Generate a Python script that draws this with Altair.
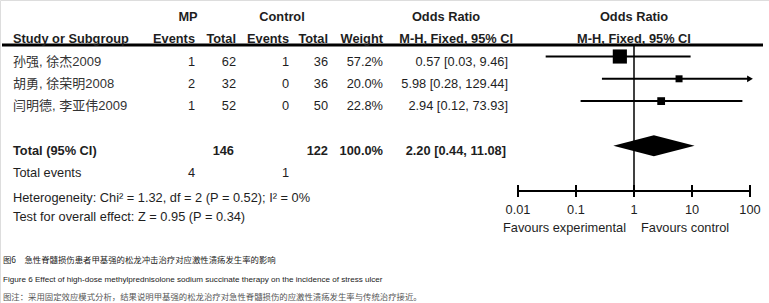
import altair as alt
import pandas as pd

# ---------------- data ----------------
studies = ["孙强, 徐杰2009", "胡勇, 徐荣明2008", "闫明德, 李亚伟2009"]
mp_events = [1, 2, 1]
mp_total = [62, 32, 52]
ctl_events = [1, 0, 0]
ctl_total = [36, 36, 50]
weights = [57.2, 20.0, 22.8]
or_est = [0.57, 5.98, 2.94]
or_lo = [0.03, 0.28, 0.12]
or_hi = [9.46, 129.44, 73.93]

pooled_est, pooled_lo, pooled_hi = 2.20, 0.44, 11.08
total_mp, total_ctl = 146, 122
events_mp, events_ctl = 4, 1
heterogeneity = "Heterogeneity: Chi² = 1.32, df = 2 (P = 0.52); I² = 0%"
overall_effect = "Test for overall effect: Z = 0.95 (P = 0.34)"

tick_values = [0.01, 0.1, 1, 10, 100]
tick_labels = ["0.01", "0.1", "1", "10", "100"]
favours = ["Favours experimental", "Favours control"]

captions = [
    "图6　急性脊髓损伤患者甲基强的松龙冲击治疗对应激性溃疡发生率的影响",
    "Figure 6   Effect of high-dose methylprednisolone sodium succinate therapy on the incidence of stress ulcer",
    "图注：采用固定效应模式分析，结果说明甲基强的松龙治疗对急性脊髓损伤的应激性溃疡发生率与传统治疗接近。",
]

# ---------------- layout / style ----------------
FONT = "Liberation Sans, Arial, Noto Sans CJK SC, sans-serif"
CJK = "Noto Sans CJK SC, sans-serif"
FS = 12.8
TXT = "#1e1e1e"
XMAX = 100

xscale = alt.Scale(type="log", domain=[0.01, 100], range=[518, 750])
yscale = alt.Scale(domain=[1, 8], range=[56.5, 56.5 + 7 * 22.3], zero=False, nice=False)

# column anchors (pixels)
COL = {"study": 13, "mp_e": 195, "mp_t": 236, "c_e": 289, "c_t": 328, "w": 383, "or": 508}

n = len(studies)
rows = list(range(1, n + 1))
R_H1, R_H2, R_RULE = -1, 0, 0.484
R_TOTAL, R_EVENTS, R_HET, R_TEST = n + 2, n + 3, n + 4.1, n + 4.97
R_AXIS = 7.03

def Y(field="row"):
    return alt.Y(f"{field}:Q", scale=yscale, axis=None)

def X(field):
    return alt.X(f"{field}:Q", scale=xscale, axis=None)

# ---------------- forest ----------------
sdf = pd.DataFrame({
    "row": rows, "est": or_est, "lo": or_lo,
    "hi": [min(h, XMAX) for h in or_hi], "w": weights,
    "arrow": [h > XMAX for h in or_hi],
})

ci = alt.Chart(sdf).mark_rule(color="black", strokeWidth=2).encode(
    x=X("lo"), x2="hi", y=Y())
sq = alt.Chart(sdf).mark_square(color="black", filled=True, opacity=1).encode(
    x=X("est"), y=Y(),
    size=alt.Size("w:Q", scale=alt.Scale(domain=[20, 57.2], range=[49, 200], zero=False), legend=None))
arrows = alt.Chart(sdf[sdf["arrow"]]).mark_point(
    shape="triangle-right", filled=True, color="black", opacity=1, size=45).encode(
    x=X("hi"), y=Y())

half = 0.47
ddf = pd.DataFrame({
    "x": [pooled_lo, pooled_est, pooled_hi],
    "top": [R_TOTAL, R_TOTAL - half, R_TOTAL],
    "bot": [R_TOTAL, R_TOTAL + half, R_TOTAL],
})
diamond = alt.Chart(ddf).mark_area(color="black", opacity=1).encode(
    x=X("x"), y=Y("top"), y2="bot")

null_line = alt.Chart(pd.DataFrame({"v": [1], "a": [R_RULE], "b": [R_AXIS]})).mark_rule(
    color="black", strokeWidth=1.5).encode(x=X("v"), y=Y("a"), y2="b")

axis_line = alt.Chart(pd.DataFrame({"a": [tick_values[0]], "b": [tick_values[-1]], "row": [R_AXIS]})).mark_rule(
    color="black", strokeWidth=2).encode(x=X("a"), x2="b", y=Y())
tdf = pd.DataFrame({"v": tick_values, "lab": tick_labels,
                    "a": [R_AXIS - 0.27] * 5, "b": [R_AXIS + 0.27] * 5, "row": [R_AXIS] * 5})
ticks = alt.Chart(tdf).mark_rule(color="black", strokeWidth=2).encode(x=X("v"), y=Y("a"), y2="b")
tick_text = alt.Chart(tdf).mark_text(font=FONT, fontSize=FS, color=TXT, dy=19).encode(
    x=X("v"), y=Y(), text="lab:N")
fav = pd.DataFrame({"v": [1, 1], "row": [R_AXIS, R_AXIS], "t": favours, "side": ["l", "r"]})
fav_l = alt.Chart(fav[fav.side == "l"]).mark_text(font=FONT, fontSize=FS, color=TXT, dy=37, dx=-8, align="right").encode(
    x=X("v"), y=Y(), text="t:N")
fav_r = alt.Chart(fav[fav.side == "r"]).mark_text(font=FONT, fontSize=FS, color=TXT, dy=37, dx=7, align="left").encode(
    x=X("v"), y=Y(), text="t:N")

# ---------------- table text ----------------
cells = []  # (row, px, text, align, bold)
def add(row, px, text, align, bold=False):
    cells.append({"row": row, "px": px, "text": str(text), "align": align, "bold": bold})

add(R_H1, 188, "MP", "center", True)
add(R_H1, 282, "Control", "center", True)
add(R_H1, 446, "Odds Ratio", "center", True)
add(R_H2, COL["study"], "Study or Subgroup", "left", True)
add(R_H2, COL["mp_e"], "Events", "right", True)
add(R_H2, COL["mp_t"], "Total", "right", True)
add(R_H2, COL["c_e"], "Events", "right", True)
add(R_H2, COL["c_t"], "Total", "right", True)
add(R_H2, COL["w"], "Weight", "right", True)
add(R_H2, 513, "M-H, Fixed, 95% CI", "right", True)
for i in range(n):
    r = rows[i]
    add(r, COL["study"], studies[i], "name")
    add(r, COL["mp_e"], mp_events[i], "right")
    add(r, COL["mp_t"], mp_total[i], "right")
    add(r, COL["c_e"], ctl_events[i], "right")
    add(r, COL["c_t"], ctl_total[i], "right")
    add(r, COL["w"], f"{weights[i]:.1f}%", "right")
    add(r, COL["or"], f"{or_est[i]:.2f} [{or_lo[i]:.2f}, {or_hi[i]:.2f}]", "right")
add(R_TOTAL, COL["study"], "Total (95% CI)", "left", True)
add(R_TOTAL, COL["mp_t"] - 2, total_mp, "right", True)
add(R_TOTAL, COL["c_t"], total_ctl, "right", True)
add(R_TOTAL, COL["w"], f"{sum(weights):.1f}%", "right", True)
add(R_TOTAL, COL["or"] - 2, f"{pooled_est:.2f} [{pooled_lo:.2f}, {pooled_hi:.2f}]", "right", True)
add(R_EVENTS, COL["study"], "Total events", "left")
add(R_EVENTS, COL["mp_e"], events_mp, "right")
add(R_EVENTS, COL["c_e"], events_ctl, "right")
add(R_HET, COL["study"], heterogeneity, "left")
add(R_TEST, COL["study"], overall_effect, "left")
cdf = pd.DataFrame(cells)

text_layers = []
for (align, bold), g in cdf.groupby(["align", "bold"]):
    if align == "name":
        mk = alt.Chart(g).mark_text(font=FONT, fontSize=13, color="#333", align="left", dy=5)
    else:
        mk = alt.Chart(g).mark_text(font=FONT, fontSize=FS, color=TXT, align=align, dy=5,
                                    fontWeight="bold" if bold else "normal")
    text_layers.append(mk.encode(x=alt.X("px:Q", scale=None, axis=None), y=Y(), text="text:N"))

rhead = pd.DataFrame({"v": [1, 1], "row": [R_H1, R_H2], "t": ["Odds Ratio", "M-H, Fixed, 95% CI"]})
rhead_text = alt.Chart(rhead).mark_text(font=FONT, fontSize=FS, color=TXT, fontWeight="bold", dy=5).encode(
    x=X("v"), y=Y(), text="t:N")

head_rule = alt.Chart(pd.DataFrame({"row": [R_RULE]})).mark_rule(color="black", strokeWidth=3).encode(
    x=alt.value(2), x2=alt.value(763), y=Y())

# ---------------- captions ----------------
cap1 = alt.Chart(pd.DataFrame({"t": [captions[0]]})).mark_text(
    font=CJK, fontSize=8.4, color="#222", align="left").encode(
    x=alt.value(3), y=alt.value(260), text="t:N")
cap2 = alt.Chart(pd.DataFrame({"t": [captions[1]]})).mark_text(
    font=FONT, fontSize=8.1, color="#222", align="left").encode(
    x=alt.value(3), y=alt.value(280), text="t:N")
cap3 = alt.Chart(pd.DataFrame({"t": [captions[2]]})).mark_text(
    font=CJK, fontSize=8.4, color="#555", align="left").encode(
    x=alt.value(3), y=alt.value(297), text="t:N")

chart = alt.layer(
    head_rule, null_line, ci, sq, arrows, diamond, axis_line, ticks, tick_text, fav_l, fav_r,
    rhead_text, *text_layers, cap1, cap2, cap3
).properties(
    width=769, height=303, padding=0, autosize=alt.AutoSizeParams(type="none")
).configure_view(stroke=None).configure(background="white")

chart.save("out.html", embed_options={"renderer": "svg", "actions": False})
